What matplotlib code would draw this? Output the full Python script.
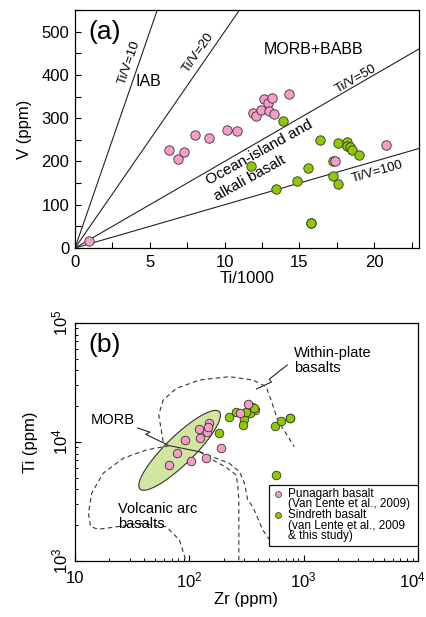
import numpy as np
import matplotlib
matplotlib.use("Agg")
import matplotlib.pyplot as plt
import matplotlib.transforms as mtransforms
from matplotlib.patches import Rectangle
from matplotlib.ticker import MultipleLocator, LogLocator, NullFormatter, FixedLocator

plt.rcParams['font.family'] = ['Liberation Sans', 'DejaVu Sans']
plt.rcParams['mathtext.fontset'] = 'custom'
plt.rcParams['mathtext.rm'] = 'Liberation Sans'
plt.rcParams['mathtext.default'] = 'regular'

# ---------------- Panel (a) data: Ti/1000 vs V ----------------
pun_ti_a = [0.95, 6.31, 6.87, 7.31, 8.02, 8.93, 10.19, 10.85, 11.89, 12.07, 12.44,
            12.62, 12.91, 13.0, 13.16, 13.31, 14.29, 17.39, 20.77]
pun_v_a = [17, 227, 206, 223, 262, 255, 272, 270, 313, 306, 319,
           344, 334, 316, 346, 310, 357, 200, 237]
sin_ti_a = [13.9, 11.74, 16.35, 17.6, 18.16, 18.2, 18.38, 18.54, 18.98, 15.55,
            17.23, 17.56, 14.84, 13.42, 15.77, 15.77, 17.25]
sin_v_a = [293, 189, 250, 243, 246, 236, 233, 226, 216, 184,
           167, 149, 154, 137, 57, 57, 202]
tiv_ratios = [10, 20, 50, 100]

# ---------------- Panel (b) data: Zr vs Ti ----------------
pun_zr_b = [150, 121, 144, 146, 125, 92, 78, 67, 104, 141, 191, 329, 278]
pun_ti_b = [14500, 12900, 12200, 13300, 10900, 10300, 8040, 6440, 6880, 7400, 8900, 20800, 17400]
sin_zr_b = [221, 258, 302, 297, 354, 378, 340, 315, 365, 183, 557, 636, 755, 755, 578]
sin_ti_b = [16300, 17800, 15700, 13800, 19600, 18600, 17400, 18000, 19200, 11800, 13500, 15000, 16000, 16000, 5300]

# field boundaries (Zr, Ti)
wpb_zr = [59, 54, 59, 77, 123, 224, 359, 469, 519, 592, 701, 828]
wpb_ti = [10070, 16900, 22500, 28200, 33200, 35400, 33200, 29200, 22500, 15300, 11800, 9120]
vab_zr = [67, 42, 26.4, 17.6, 14.0, 13.1, 13.7, 16.0, 21.6, 36.9, 63, 82, 91, 93]
vab_ti = [9310, 8570, 7300, 5460, 3710, 2520, 1940, 1850, 1920, 2070, 1940, 1500, 1090, 1000]
inner_a_zr = [123, 161, 210, 257, 266, 271, 271]
inner_a_ti = [8280, 7060, 6120, 5280, 4210, 3260, 1000]
inner_b_zr = [123, 172, 224, 274, 304, 324, 359, 439, 519]
inner_b_ti = [8280, 7300, 6620, 5630, 4500, 3260, 2860, 1820, 1450]
morb_line_zr = [67, 123]
morb_line_ti = [9310, 8280]
# MORB field: ellipse in log space (centre, semi-axes in decades, angle)
morb_center = (1.915, 3.93)
morb_axes = (0.475, 0.12)
morb_angle = 43
morb_ptr_zr = [35.4, 45.1, 41.6, 64.7]
morb_ptr_ti = [13100, 12100, 11600, 9440]
wpb_ptr_zr = [720, 501, 522, 386]
wpb_ptr_ti = [44400, 33800, 31900, 27900]

PINK = '#f59cc8'
GREEN = '#8fc800'
EDGE = '#333333'

W, H = 427, 617
fig = plt.figure(figsize=(W / 100, H / 100), dpi=100)

def fr(l, t, r, b):
    return [l / W, 1 - b / H, (r - l) / W, (b - t) / H]

# ================= Panel (a) =================
ax = fig.add_axes(fr(75, 10, 419, 248))
ax.set_xlim(0, 23)
ax.set_ylim(0, 550)
xx = np.array([0, 23])
for r in tiv_ratios:
    ax.plot(xx, xx * 1000 / r, color='#222222', lw=0.8, zorder=1)
ax.scatter(sin_ti_a, sin_v_a, s=46, c=GREEN, edgecolors=EDGE, linewidths=0.6, zorder=3)
ax.scatter(pun_ti_a, pun_v_a, s=46, c=PINK, edgecolors=EDGE, linewidths=0.6, zorder=4)

ax.xaxis.set_major_locator(MultipleLocator(5))
ax.xaxis.set_minor_locator(MultipleLocator(2.5))
ax.yaxis.set_major_locator(MultipleLocator(100))
ax.yaxis.set_minor_locator(MultipleLocator(50))
ax.tick_params(which='both', direction='in', labelsize=12, length=4, width=0.8)
ax.tick_params(axis='y', pad=4)
ax.tick_params(axis='x', pad=5)
ax.set_xlabel('Ti/1000', fontsize=12, labelpad=1)
ax.set_ylabel('V (ppm)', fontsize=12, labelpad=7)
for s in ax.spines.values():
    s.set_linewidth(0.9)

ax.text(0.04, 0.96, '(a)', transform=ax.transAxes, fontsize=19, va='top', ha='left')
ax.text(4.9, 385, 'IAB', fontsize=11.5, ha='center', va='center')
ax.text(15.95, 458, 'MORB+BABB', fontsize=11.5, ha='center', va='center')
ax.text(3.6, 428, 'Ti/V=10', fontsize=9.5, rotation=71, ha='center', va='center')
ax.text(8.25, 452, 'Ti/V=20', fontsize=9.5, rotation=55, ha='center', va='center')
ax.text(18.8, 390, 'Ti/V=50', fontsize=9.5, rotation=30, ha='center', va='center')
ax.text(20.2, 177, 'Ti/V=100', fontsize=9.5, rotation=16, ha='center', va='center')
ax.text(12.3, 220, 'Ocean-island and', fontsize=11, rotation=29, ha='center', va='center')
ax.text(11.7, 162, 'alkali basalt', fontsize=11, rotation=29, ha='center', va='center')

# ================= Panel (b) =================
bx = fig.add_axes(fr(75, 323, 418, 561))
bx.set_xscale('log')
bx.set_yscale('log')
bx.set_xlim(10, 1e4)
bx.set_ylim(1e3, 1e5)

# MORB ellipse
t = np.linspace(0, 2 * np.pi, 200)
a_, b_ = morb_axes
ang = np.deg2rad(morb_angle)
lx = morb_center[0] + a_ * np.cos(t) * np.cos(ang) - b_ * np.sin(t) * np.sin(ang)
ly = morb_center[1] + a_ * np.cos(t) * np.sin(ang) + b_ * np.sin(t) * np.cos(ang)
bx.fill(10 ** lx, 10 ** ly, facecolor='#d2e6a4', edgecolor='#333333', lw=0.8, zorder=1)

dash = dict(color='#333333', lw=0.8, ls=(0, (4, 3)), zorder=2)
bx.plot(wpb_zr, wpb_ti, **dash)
bx.plot(vab_zr, vab_ti, **dash)
bx.plot(inner_a_zr, inner_a_ti, **dash)
bx.plot(inner_b_zr, inner_b_ti, **dash)
bx.plot(morb_line_zr, morb_line_ti, color='#333333', lw=0.8, zorder=2)
bx.plot(morb_ptr_zr, morb_ptr_ti, color='#222222', lw=0.8, zorder=2)
bx.plot(wpb_ptr_zr, wpb_ptr_ti, color='#222222', lw=0.8, zorder=2)

bx.scatter(sin_zr_b, sin_ti_b, s=38, c=GREEN, edgecolors=EDGE, linewidths=0.6, zorder=3)
bx.scatter(pun_zr_b, pun_ti_b, s=38, c=PINK, edgecolors=EDGE, linewidths=0.6, zorder=4)

bx.xaxis.set_major_locator(FixedLocator([10, 100, 1000, 10000]))
bx.set_xticklabels(['10', '10$^2$', '10$^3$', '10$^4$'])
bx.yaxis.set_major_locator(FixedLocator([1e3, 1e4, 1e5]))
bx.set_yticklabels(['10$^3$', '10$^4$', '10$^5$'], rotation=90, va='center')
bx.xaxis.set_minor_locator(LogLocator(base=10, subs=np.arange(2, 10)))
bx.yaxis.set_minor_locator(LogLocator(base=10, subs=np.arange(2, 10)))
bx.xaxis.set_minor_formatter(NullFormatter())
bx.yaxis.set_minor_formatter(NullFormatter())
bx.tick_params(which='major', direction='in', labelsize=12, length=4, width=0.8)
bx.tick_params(which='minor', direction='in', length=2.5, width=0.7)
bx.tick_params(axis='y', pad=3)
bx.tick_params(axis='x', pad=7)
bx.set_xlabel('Zr (ppm)', fontsize=12, labelpad=1)
bx.set_ylabel('Ti (ppm)', fontsize=12, labelpad=9)
for s in bx.spines.values():
    s.set_linewidth(0.9)
# keep the last x tick label inside the figure
last = bx.get_xticklabels()[-1]
last.set_transform(last.get_transform() + mtransforms.ScaledTranslation(-6 / 100, 0, fig.dpi_scale_trans))

bx.text(0.04, 0.96, '(b)', transform=bx.transAxes, fontsize=19, va='top', ha='left')
bx.text(830, 48000, 'Within-plate\nbasalts', fontsize=10.5, ha='left', va='center', linespacing=1.1)
bx.text(21.4, 15300, 'MORB', fontsize=10.5, ha='center', va='center')
bx.text(23.9, 2350, 'Volcanic arc\nbasalts', fontsize=10.5, ha='left', va='center', linespacing=1.1)

# custom legend box (axes coordinates)
lx0, lx1 = (269.3 - 75) / 343, 1.0
ly0, ly1 = (561 - 546) / 238, (561 - 485) / 238
bx.add_patch(Rectangle((lx0, ly0), lx1 - lx0, ly1 - ly0, transform=bx.transAxes,
                       facecolor='white', edgecolor='#111111', lw=0.9, zorder=5))
mk_x = (278.3 - 75) / 343
tx_x = (288.5 - 75) / 343
def yax(Y):
    return (561 - Y) / 238
bx.scatter([mk_x], [yax(494)], s=18, c=PINK, edgecolors=EDGE, linewidths=0.5,
           transform=bx.transAxes, zorder=6, clip_on=False)
bx.scatter([mk_x], [yax(515)], s=18, c=GREEN, edgecolors=EDGE, linewidths=0.5,
           transform=bx.transAxes, zorder=6, clip_on=False)
leg_lines = [('Punagarh basalt', 494), ('(Van Lente et al., 2009)', 504.5),
             ('Sindreth basalt', 515), ('(van Lente et al., 2009', 525.5),
             ('& this study)', 536)]
for txt, Y in leg_lines:
    bx.text(tx_x, yax(Y), txt, transform=bx.transAxes, fontsize=8.5, ha='left',
            va='center', zorder=7)

fig.savefig('out.png', dpi=100)
